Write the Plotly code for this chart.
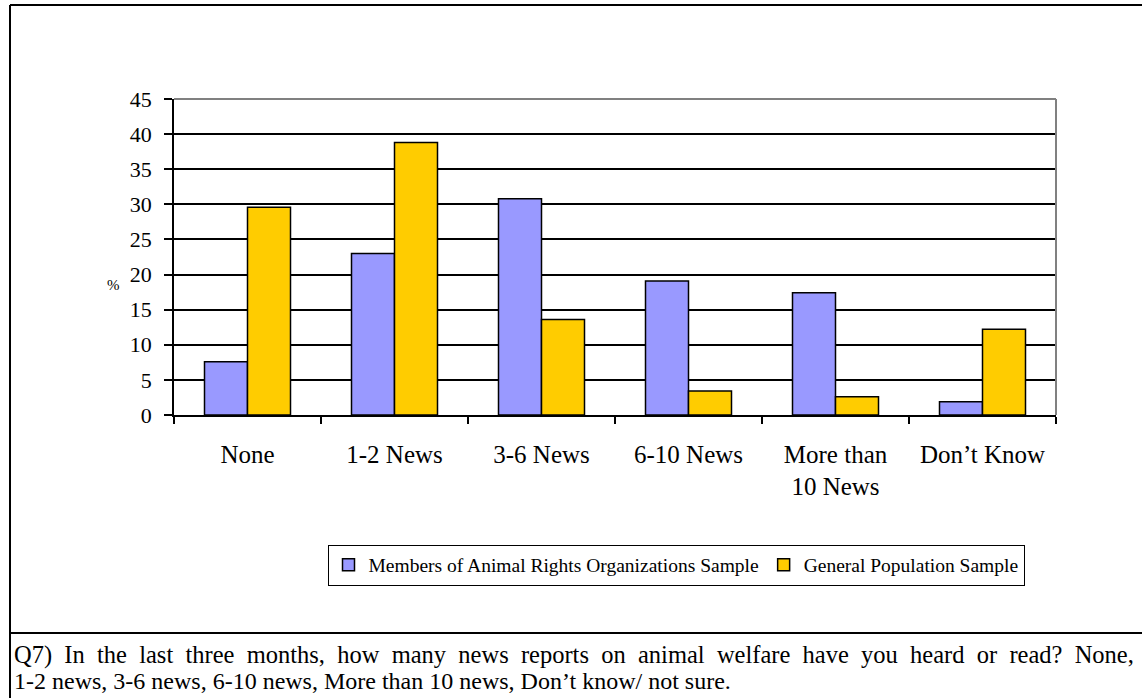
import plotly.graph_objects as go

categories = ["None", "1-2 News", "3-6 News", "6-10 News", "More than<br>10 News", "Don\u2019t Know"]
members = [7.6, 23.0, 30.8, 19.1, 17.4, 1.9]
general = [29.6, 38.8, 13.6, 3.4, 2.6, 12.2]
series_names = ["Members of Animal Rights Organizations Sample", "General Population Sample"]
yticks = [0, 5, 10, 15, 20, 25, 30, 35, 40, 45]
caption_lines = [
    "Q7) In the last three months, how many news reports on animal welfare have you heard or read? None,",
    "1-2 news, 3-6 news, 6-10 news, More than 10 news, Don\u2019t know/ not sure.",
]

W, H = 1142, 698
L, R, T, B = 174, 1056, 99, 415
pw, ph = R - L, B - T

def px(x):
    return (x - L) / pw

def py(y):
    return (B - y) / ph

FONT = "Liberation Serif"

# first caption line is justified in the reference: widen its spaces
line1 = caption_lines[0].replace(" ", "\u00a0 ")

fig = go.Figure()
fig.add_trace(go.Bar(x=categories, y=members, name=series_names[0],
                     marker=dict(color="#9999FF", line=dict(color="black", width=1.5))))
fig.add_trace(go.Bar(x=categories, y=general, name=series_names[1],
                     marker=dict(color="#FFCC00", line=dict(color="black", width=1.5))))

fig.update_layout(
    width=W, height=H,
    margin=dict(l=L, r=W - R, t=T, b=H - B, pad=0),
    paper_bgcolor="white", plot_bgcolor="white",
    barmode="group", bargap=0.415, bargroupgap=0,
    font=dict(family=FONT, size=19, color="black"),
    showlegend=True,
    legend=dict(orientation="h", x=px(676), y=py(565), xanchor="center", yanchor="middle",
                bordercolor="black", borderwidth=1, font=dict(size=19.5, family=FONT),
                itemwidth=30, tracegroupgap=0),
    xaxis=dict(type="category", tickson="boundaries", ticks="outside", ticklen=7,
               tickcolor="black", tickwidth=1.5, showline=True, linecolor="black", linewidth=1.5,
               showgrid=False, ticklabelstandoff=16, tickfont=dict(size=25, family=FONT)),
    yaxis=dict(range=[0, 45], tickvals=yticks, ticks="outside", ticklen=8, tickcolor="black",
               tickwidth=1.5, showline=True, linecolor="black", linewidth=1.5,
               showgrid=True, gridcolor="black", gridwidth=1.5, zeroline=False,
               ticklabelstandoff=8, tickfont=dict(size=22, family=FONT)),
    shapes=[
        dict(type="line", xref="paper", yref="paper", x0=0, x1=1, y0=1, y1=1,
             line=dict(color="#808080", width=2)),
        dict(type="line", xref="paper", yref="paper", x0=1, x1=1, y0=0, y1=1,
             line=dict(color="#808080", width=2)),
        dict(type="line", xref="paper", yref="paper", x0=px(10), x1=px(1150), y0=py(5), y1=py(5),
             line=dict(color="black", width=2)),
        dict(type="line", xref="paper", yref="paper", x0=px(10), x1=px(10), y0=py(5), y1=py(705),
             line=dict(color="black", width=2)),
        dict(type="line", xref="paper", yref="paper", x0=px(10), x1=px(1150), y0=py(633), y1=py(633),
             line=dict(color="black", width=2)),
    ],
    annotations=[
        dict(text="%", xref="paper", yref="paper", x=px(113), y=py(285), showarrow=False,
             font=dict(size=15, family=FONT), xanchor="center", yanchor="middle"),
        dict(text=line1, xref="paper", yref="paper", x=px(12), y=py(655), showarrow=False,
             font=dict(size=24.5, family=FONT), xanchor="left", yanchor="middle"),
        dict(text=caption_lines[1], xref="paper", yref="paper", x=px(12), y=py(681), showarrow=False,
             font=dict(size=24, family=FONT), xanchor="left", yanchor="middle"),
    ],
)

fig.write_html("out.html")
